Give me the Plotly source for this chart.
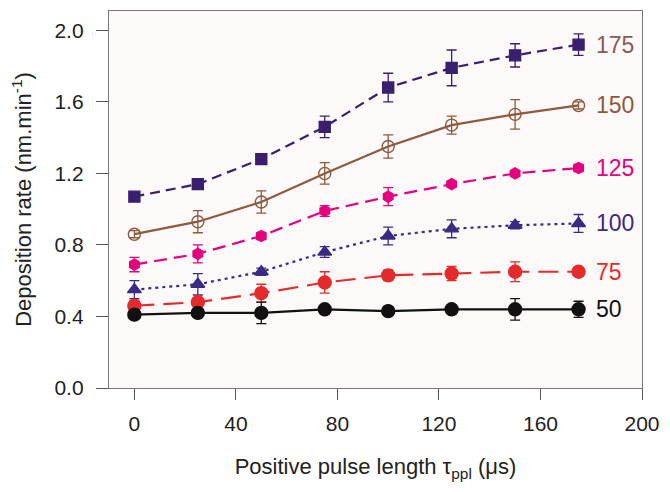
import plotly.graph_objects as go

x = [0, 25, 50, 75, 100, 125, 150, 175]

r175 = [1.07, 1.14, 1.28, 1.46, 1.68, 1.79, 1.86, 1.92]
e175 = [0.01, 0.01, 0.02, 0.06, 0.08, 0.10, 0.065, 0.06]
r150 = [0.86, 0.93, 1.04, 1.20, 1.35, 1.47, 1.53, 1.58]
e150 = [0.02, 0.062, 0.062, 0.06, 0.065, 0.05, 0.083, 0.02]
r125 = [0.69, 0.75, 0.85, 0.99, 1.07, 1.14, 1.20, 1.23]
e125 = [0.04, 0.05, 0.02, 0.03, 0.05, 0.015, 0.015, 0.02]
r100 = [0.55, 0.58, 0.65, 0.76, 0.85, 0.89, 0.91, 0.92]
e100 = [0.05, 0.06, 0.02, 0.03, 0.05, 0.05, 0.02, 0.05]
r75 = [0.46, 0.48, 0.53, 0.59, 0.63, 0.64, 0.65, 0.65]
e75 = [0.03, 0.02, 0.05, 0.06, 0.03, 0.04, 0.055, 0.01]
r50 = [0.41, 0.42, 0.42, 0.44, 0.43, 0.44, 0.44, 0.44]
e50 = [0.02, 0.02, 0.06, 0.01, 0.02, 0.02, 0.06, 0.045]

series_labels = ["175", "150", "125", "100", "75", "50"]
x_ticks = [0, 40, 80, 120, 160, 200]
y_ticks = [0.0, 0.4, 0.8, 1.2, 1.6, 2.0]

specs = [
    (r175, e175, "#3a1f6e", "square", 11, "10px,6px", "#8a5a5a"),
    (r150, e150, "#8c5a3e", "circle-open", 12, "solid", "#8c5a3e"),
    (r125, e125, "#e5007d", "hexagon", 11, "13px,7px", "#e5007d"),
    (r100, e100, "#3a2a82", "triangle-up", 12, "3px,4px", "#3a2a82"),
    (r75, e75, "#e42a2a", "circle", 13, "20px,9px", "#e42a2a"),
    (r50, e50, "#111111", "circle", 13, "solid", "#111111"),
]

fig = go.Figure()
for (vals, errs, col, sym, sz, dash, lcol), lab in zip(specs, series_labels):
    fig.add_trace(go.Scatter(
        x=x, y=vals, mode="lines+markers", name=lab,
        line=dict(color=col, width=2.2, dash=dash),
        marker=dict(symbol=sym, size=sz, color=col, line=dict(color=col, width=1.4)),
        error_y=dict(type="data", array=errs, visible=True, color=col, thickness=1.3, width=5),
        showlegend=False,
    ))
    fig.add_annotation(x=x[-1], y=vals[-1], text=lab, showarrow=False,
                       xanchor="left", yanchor="middle", xshift=15,
                       font=dict(size=23, color=lcol, family="Liberation Sans"))

fig.update_layout(
    width=670, height=492,
    margin=dict(l=109, r=22, t=10, b=104),
    paper_bgcolor="white", plot_bgcolor="#fdf9f9",
    font=dict(family="Liberation Sans", size=21, color="#222222"),
)
fig.update_xaxes(
    range=[-10, 200], tickvals=x_ticks, ticktext=[str(v) for v in x_ticks],
    showgrid=False, zeroline=False, showline=True, mirror=True,
    linecolor="#777777", linewidth=1.3, ticks="outside", ticklen=11,
    tickcolor="#555555", tickwidth=1.3, tickfont=dict(size=21),
    ticklabelstandoff=6,
    title=dict(text="Positive pulse length τ<sub>ppl</sub> (μs)", font=dict(size=22), standoff=24),
)
fig.update_yaxes(
    range=[0, 2.108], tickvals=y_ticks, ticktext=[f"{v:.1f}" for v in y_ticks],
    showgrid=False, zeroline=False, showline=True, mirror=True,
    linecolor="#777777", linewidth=1.3, ticks="outside", ticklen=12,
    tickcolor="#555555", tickwidth=1.3, tickfont=dict(size=21),
    ticklabelstandoff=8,
    title=dict(text="Deposition rate (nm.min<sup>-1</sup>)", font=dict(size=22), standoff=16),
)

fig.write_html("out.html")
